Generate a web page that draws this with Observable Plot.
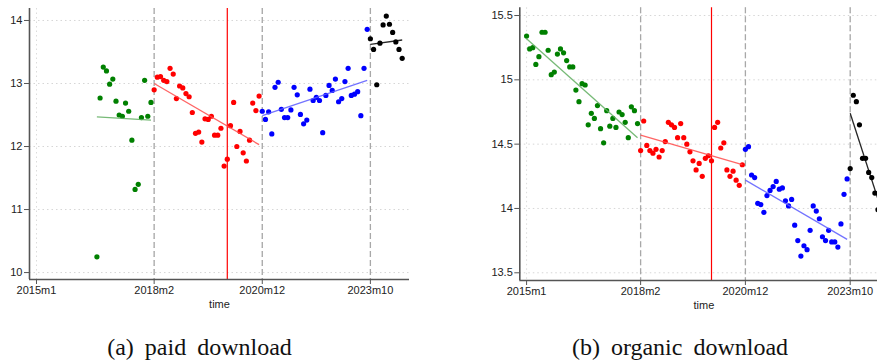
<!DOCTYPE html>
<html>
<head>
<meta charset="utf-8">
<script src="https://cdn.jsdelivr.net/npm/d3@7"></script>
<script src="https://cdn.jsdelivr.net/npm/@observablehq/plot@0.6"></script>
<style>
  html, body { margin: 0; padding: 0; background: #fff; }
  #wrap { position: relative; width: 877px; height: 360px; overflow: hidden; background: #fff; }
  .panel { position: absolute; top: 0; }
  .panel svg { max-width: none !important; }
  .cap { position: absolute; width: 400px; text-align: center; top: 335px;
         font-family: "Liberation Serif", "Times New Roman", serif; font-size: 24px;
         line-height: 24px; word-spacing: 5px; color: #111; white-space: nowrap; }
</style>
</head>
<body>
<div id="wrap">
  <div id="pa" class="panel" style="left:0px; width:420px"></div>
  <div id="pb" class="panel" style="left:470px; width:430px"></div>
  <div class="cap" style="left:-0.5px">(a) paid download</div>
  <div class="cap" style="left:480px">(b) organic download</div>
</div>
<script>
// ---------- data ----------
const tickLabels = ["2015m1", "2018m2", "2020m12", "2023m10"];
const breakLabels = ["2018m2", "2020m12", "2023m10"];
const eventLabel = "2020m1";
const paidYTicks = [10, 11, 12, 13, 14];
const organicYTicks = [13.5, 14, 14.5, 15, 15.5];

// segment periods (first month of each series, last month of each fit)
const paidStart = ["2016m8", "2018m2", "2020m12", "2023m10"];
const organicStart = ["2015m1", "2018m2", "2020m12", "2023m10"];
const fitEndMonth = ["2018m1", "2020m11", "2023m9", "2024m8"];

// paid download (log)
const paidGreen = [10.25, 12.77, 13.26, 13.20, 12.99, 13.07, 12.72, 12.50, 12.48, 12.69, 12.56, 12.10, 11.32, 11.40, 12.46, 13.05, 12.48, 12.70];
const paidRed = [12.90, 13.10, 13.11, 13.05, 13.03, 13.24, 13.15, 12.76, 12.96, 12.93, 12.84, 12.79, 12.54, 12.21, 12.23, 12.07, 12.44, 12.43, 12.48, 12.18, 12.18, 12.29, 11.69, 11.80, 12.33, 12.70, 12.00, 12.24, 11.90, 11.77, 12.10, 12.69, 12.57, 12.80];
const paidBlue = [12.56, 12.43, 12.55, 12.20, 12.94, 13.02, 12.59, 12.46, 12.46, 12.58, 12.94, 12.82, 12.51, 12.36, 12.42, 12.91, 12.73, 12.78, 12.73, 12.22, 12.81, 12.97, 12.89, 13.07, 12.71, 12.76, 13.03, 13.24, 12.81, 12.83, 12.87, 12.49, 13.24, 13.86];
const paidBlack = [13.71, 13.54, 12.98, 13.64, 13.93, 14.07, 13.94, 13.81, 13.66, 13.54, 13.40];
const paidFitFrom = [12.47, 13.00, 12.49, 13.62];
const paidFitTo = [12.42, 12.03, 13.05, 13.69];

// organic download (log)
const organicGreen = [15.34, 15.24, 15.25, 15.12, 15.18, 15.37, 15.37, 15.23, 15.04, 15.06, 15.20, 15.24, 15.21, 15.15, 15.10, 15.10, 14.92, 14.83, 14.97, 14.96, 14.65, 14.74, 14.70, 14.80, 14.62, 14.51, 14.76, 14.64, 14.70, 14.63, 14.75, 14.73, 14.67, 14.55, 14.79, 14.76, 14.66];
const organicRed = [14.45, 14.68, 14.49, 14.45, 14.43, 14.46, 14.40, 14.45, 14.52, 14.67, 14.65, 14.63, 14.55, 14.66, 14.55, 14.50, 14.44, 14.37, 14.30, 14.35, 14.25, 14.39, 14.41, 14.37, 14.63, 14.67, 14.47, 14.51, 14.30, 14.25, 14.29, 14.22, 14.18, 14.34];
const organicBlue = [14.46, 14.48, 14.26, 14.24, 14.04, 14.03, 13.97, 14.10, 14.14, 14.17, 14.21, 14.15, 14.16, 14.06, 14.02, 14.07, 13.87, 13.75, 13.63, 13.71, 13.68, 13.83, 14.02, 13.98, 13.92, 13.78, 13.75, 13.83, 13.74, 13.74, 13.70, 13.88, 14.11, 14.23];
const organicBlack = [14.31, 14.88, 14.83, 14.65, 14.39, 14.39, 14.28, 14.24, 14.12, 13.99];
const organicFitFrom = [15.32, 14.57, 14.22, 14.74];
const organicFitTo = [14.55, 14.34, 13.76, 14.00];

// ---------- styles ----------
const segColors = ["#008000", "#ff0000", "#0000ff", "#000000"];
const fitColors = ["#5fae5f", "#ff4a4a", "#5a5aff", "#000000"];

// ---------- helpers ----------
const mi = s => { const [y, m] = s.split("m").map(Number); return (y - 2015) * 12 + (m - 1); };
const tickMonths = tickLabels.map(mi);
const fmtMonth = d => tickLabels[tickMonths.indexOf(d)];
const fmtY = d => String(d);

function buildPoints(starts, series) {
  const out = [];
  series.forEach((vals, s) => {
    const m0 = mi(starts[s]);
    vals.forEach((v, i) => out.push({ t: m0 + i, v, seg: s }));
  });
  return out;
}
function buildFits(starts, from, to) {
  return starts.map((st, s) => ({ t1: mi(st), t2: mi(fitEndMonth[s]), v1: from[s], v2: to[s], seg: s }));
}

function panel({ width, marginLeft, marginRight, marginTop, marginBottom, yDomain, yTicks, points, fits }) {
  const xDomain = [-2.2, 117.3];
  const axisColor = "#555";
  return Plot.plot({
    width, height: 320, marginLeft, marginRight, marginTop, marginBottom,
    style: { fontFamily: "'Liberation Sans', Arial, sans-serif", fontSize: "11px", color: "#222", background: "transparent", maxWidth: "none" },
    x: { domain: xDomain, axis: null },
    y: { domain: yDomain, axis: null },
    marks: [
      Plot.gridY(yTicks, { stroke: "#d6d6d6", strokeOpacity: 1, strokeDasharray: "1.5,3" }),
      Plot.gridX(tickMonths, { stroke: "#dcdcdc", strokeOpacity: 1, strokeDasharray: "1.5,3" }),
      Plot.ruleX(breakLabels.map(mi), { stroke: "#a8a8a8", strokeWidth: 1.3, strokeDasharray: "6,3" }),
      Plot.ruleX([mi(eventLabel)], { stroke: "#ff0000", strokeWidth: 1.2 }),
      Plot.dot(points, { x: "t", y: "v", r: 2.6, fill: d => segColors[d.seg], stroke: "none" }),
      Plot.link(fits, { x1: "t1", y1: "v1", x2: "t2", y2: "v2", stroke: d => fitColors[d.seg], strokeWidth: 1.3, strokeOpacity: 0.85 }),
      Plot.ruleX([xDomain[0]], { stroke: axisColor, strokeWidth: 1.6 }),
      Plot.ruleY([yDomain[0]], { stroke: axisColor, strokeWidth: 1.6 }),
      Plot.axisY(yTicks, { anchor: "left", tickSize: 5, tickPadding: 2, stroke: axisColor, fill: "#222", label: null, tickFormat: fmtY, fontSize: 11 }),
      Plot.axisX(tickMonths, { anchor: "bottom", tickSize: 5, tickPadding: 2, stroke: axisColor, fill: "#222", label: null, tickFormat: fmtMonth, fontSize: 11 }),
      Plot.text(["time"], { text: d => d, frameAnchor: "bottom", dy: 28, fontSize: 11, fill: "#222" })
    ]
  });
}

document.getElementById("pa").append(panel({
  width: 420, marginLeft: 29, marginRight: 11, marginTop: 8, marginBottom: 41,
  yDomain: [9.89, 14.19], yTicks: paidYTicks,
  points: buildPoints(paidStart, [paidGreen, paidRed, paidBlue, paidBlack]),
  fits: buildFits(paidStart, paidFitFrom, paidFitTo)
}));

document.getElementById("pb").append(panel({
  width: 430, marginLeft: 49.3, marginRight: 12.4, marginTop: 7.3, marginBottom: 40,
  yDomain: [13.44, 15.56], yTicks: organicYTicks,
  points: buildPoints(organicStart, [organicGreen, organicRed, organicBlue, organicBlack]),
  fits: buildFits(organicStart, organicFitFrom, organicFitTo)
}));
</script>
</body>
</html>
